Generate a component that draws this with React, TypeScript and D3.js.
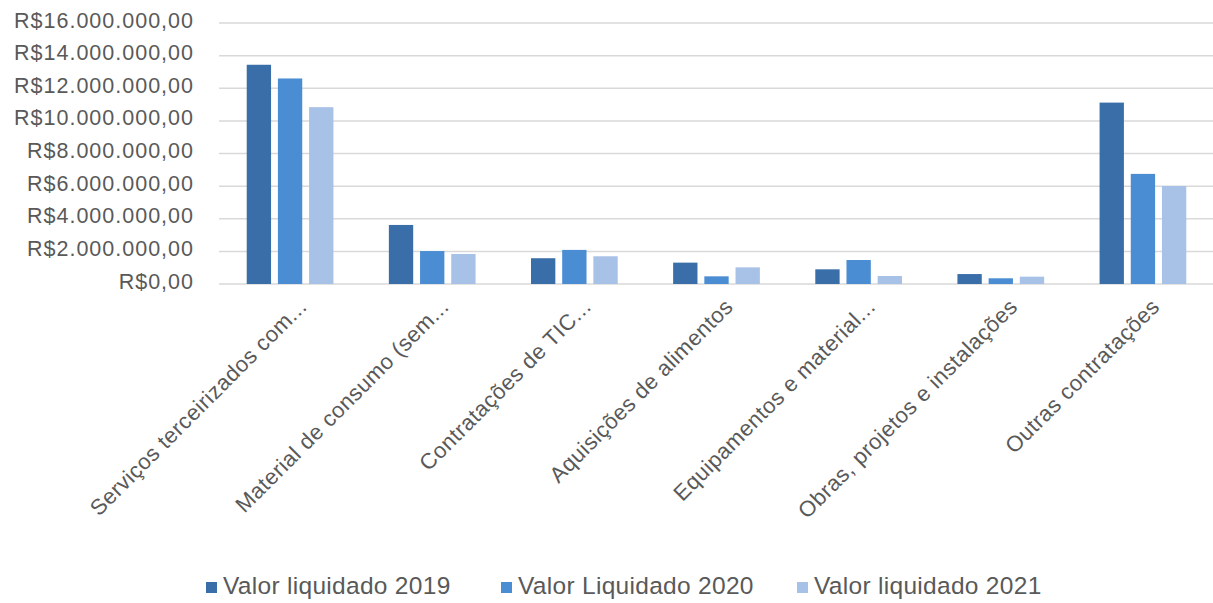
import React from "react";
import * as d3 from "d3";

const categories = [
  "Serviços terceirizados com...",
  "Material de consumo (sem...",
  "Contratações de TIC...",
  "Aquisições de alimentos",
  "Equipamentos e material...",
  "Obras, projetos e instalações",
  "Outras contratações",
];
const seriesNames = ["Valor liquidado 2019", "Valor Liquidado 2020", "Valor liquidado 2021"];
const values2019 = [13440000, 3620000, 1580000, 1310000, 900000, 610000, 11120000];
const values2020 = [12600000, 2020000, 2090000, 470000, 1470000, 350000, 6750000];
const values2021 = [10840000, 1840000, 1700000, 1020000, 490000, 450000, 6010000];
const yTicks = [0, 2000000, 4000000, 6000000, 8000000, 10000000, 12000000, 14000000, 16000000];
const colors = ["#3a6ea8", "#4a8dd3", "#a8c1e6"];

const W = 1213;
const H = 603;
const left = 219;
const right = 1214;
const top = 23;
const bottom = 284;

function fmt(v: number) {
  const intPart = Math.floor(v).toString().replace(/\B(?=(\d{3})+(?!\d))/g, ".");
  return "R$" + intPart + ",00";
}

export default function App() {
  const series = [values2019, values2020, values2021];
  const x0 = d3.scaleBand<string>().domain(categories).range([left, right]).paddingInner(0.39).paddingOuter(0.195);
  const x1 = d3.scaleBand<number>().domain([0, 1, 2]).range([0, x0.bandwidth()]).paddingInner(0.22);
  const y = d3.scaleLinear().domain([0, 16000000]).range([bottom, top]);
  const font = "'Liberation Sans', Arial, sans-serif";
  const legendX = [206, 501, 797];

  return (
    <svg width={W} height={H} style={{ position: "absolute", left: 0, top: 0, background: "#fff" }}>
      {yTicks.map((t) => (
        <g key={t}>
          <line x1={left} x2={right} y1={y(t)} y2={y(t)} stroke="#d9d9d9" strokeWidth={1.5} />
          <text x={194} y={y(t) + 4.5} textAnchor="end" fontFamily={font} fontSize={21.5} letterSpacing={1} fill="#595959">
            {fmt(t)}
          </text>
        </g>
      ))}
      {categories.map((c, i) => (
        <g key={c}>
          {series.map((s, j) => (
            <rect
              key={j}
              x={(x0(c) as number) + (x1(j) as number)}
              y={y(s[i])}
              width={x1.bandwidth()}
              height={bottom - y(s[i])}
              fill={colors[j]}
            />
          ))}
          <text
            transform={`translate(${(x0(c) as number) + x0.bandwidth() / 2 + 18},${bottom + 24}) rotate(-45)`}
            textAnchor="end"
            fontFamily={font}
            fontSize={22}
            letterSpacing={0.5}
            fill="#595959"
          >
            {c}
          </text>
        </g>
      ))}
      {seriesNames.map((n, j) => (
        <g key={n}>
          <rect x={legendX[j]} y={582} width={11} height={11} fill={colors[j]} />
          <text x={legendX[j] + 17} y={594} fontFamily={font} fontSize={24.5} letterSpacing={0.3} fill="#595959">
            {n}
          </text>
        </g>
      ))}
    </svg>
  );
}
